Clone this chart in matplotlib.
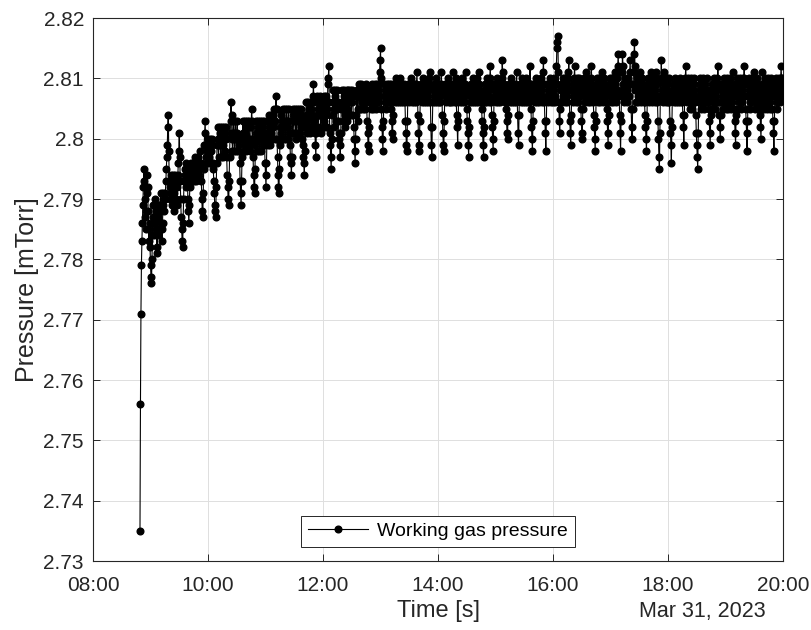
import numpy as np
import pandas as pd
import matplotlib
matplotlib.use("Agg")
import matplotlib.pyplot as plt
import matplotlib.dates as mdates
from matplotlib.ticker import FixedLocator, FuncFormatter

# working gas pressure log, 31 Mar 2023, one reading every 30 s, values in uTorr
start_time = "2023-03-31 08:49:00"
sample_step = "30s"
pressure_utorr = [
    2735, 2756, 2771, 2779, 2783, 2786, 2789, 2792, 2795, 2793, 2790, 2787, 2785, 2788, 2791, 2794, 2792, 2788, 2785, 2783,
    2786, 2782, 2779, 2777, 2776, 2780, 2784, 2787, 2789, 2786, 2784, 2787, 2790, 2788, 2785, 2782, 2781, 2784, 2787, 2789,
    2788, 2786, 2789, 2791, 2788, 2785, 2783, 2786, 2789, 2791, 2790, 2788, 2790, 2791, 2793, 2795, 2797, 2799, 2802, 2804,
    2798, 2793, 2790, 2792, 2794, 2791, 2789, 2792, 2794, 2793, 2790, 2788, 2791, 2793, 2794, 2792, 2790, 2789, 2792, 2794,
    2796, 2798, 2801, 2797, 2793, 2790, 2787, 2785, 2783, 2782, 2786, 2790, 2793, 2795, 2794, 2792, 2794, 2796, 2795, 2793,
    2790, 2788, 2786, 2789, 2792, 2794, 2796, 2795, 2793, 2795, 2796, 2794, 2793, 2795, 2797, 2795, 2793, 2794, 2796, 2795,
    2794, 2796, 2797, 2795, 2794, 2796, 2798, 2796, 2793, 2790, 2788, 2787, 2791, 2795, 2799, 2801, 2803, 2799, 2797, 2798,
    2796, 2799, 2800, 2797, 2796, 2799, 2800, 2798, 2796, 2798, 2800, 2799, 2796, 2795, 2793, 2791, 2789, 2788, 2787, 2792,
    2796, 2799, 2802, 2800, 2797, 2799, 2801, 2802, 2799, 2797, 2800, 2802, 2800, 2797, 2799, 2802, 2801, 2798, 2800, 2802,
    2800, 2797, 2794, 2792, 2790, 2789, 2793, 2797, 2801, 2803, 2806, 2804, 2800, 2798, 2801, 2803, 2800, 2798, 2801, 2803,
    2800, 2798, 2801, 2803, 2800, 2798, 2800, 2799, 2796, 2793, 2791, 2789, 2793, 2797, 2800, 2803, 2801, 2798, 2801, 2803,
    2801, 2798, 2800, 2803, 2802, 2799, 2800, 2803, 2802, 2799, 2798, 2800, 2802, 2805, 2803, 2800, 2797, 2794, 2792, 2791,
    2795, 2799, 2801, 2803, 2800, 2798, 2802, 2803, 2800, 2798, 2800, 2803, 2801, 2798, 2800, 2803, 2802, 2799, 2801, 2803,
    2799, 2796, 2794, 2792, 2796, 2800, 2803, 2801, 2799, 2801, 2804, 2802, 2799, 2801, 2804, 2802, 2800, 2802, 2804, 2805,
    2803, 2800, 2803, 2805, 2807, 2805, 2800, 2797, 2794, 2792, 2791, 2795, 2799, 2802, 2804, 2801, 2800, 2803, 2805, 2802,
    2800, 2803, 2805, 2802, 2800, 2803, 2805, 2803, 2800, 2802, 2805, 2803, 2801, 2799, 2797, 2796, 2794, 2797, 2801, 2804,
    2805, 2801, 2803, 2805, 2804, 2801, 2800, 2803, 2805, 2804, 2801, 2803, 2805, 2804, 2801, 2802, 2804, 2805, 2803, 2800,
    2799, 2797, 2796, 2794, 2798, 2802, 2804, 2806, 2803, 2801, 2804, 2806, 2805, 2802, 2801, 2804, 2806, 2805, 2802, 2804,
    2806, 2807, 2809, 2806, 2803, 2801, 2799, 2797, 2801, 2804, 2807, 2805, 2802, 2804, 2806, 2807, 2804, 2801, 2804, 2806,
    2805, 2802, 2805, 2807, 2806, 2803, 2802, 2805, 2807, 2804, 2802, 2805, 2809, 2810, 2812, 2806, 2801, 2799, 2797, 2795,
    2800, 2804, 2806, 2808, 2805, 2802, 2805, 2807, 2808, 2805, 2803, 2805, 2808, 2806, 2803, 2801, 2800, 2799, 2797, 2801,
    2805, 2808, 2806, 2803, 2806, 2808, 2807, 2804, 2802, 2805, 2807, 2808, 2805, 2803, 2806, 2808, 2807, 2804, 2806, 2808,
    2807, 2804, 2806, 2808, 2807, 2804, 2802, 2800, 2798, 2796, 2800, 2804, 2807, 2808, 2805, 2803, 2807, 2809, 2808, 2805,
    2805, 2807, 2809, 2808, 2806, 2805, 2807, 2808, 2806, 2805, 2807, 2809, 2808, 2806, 2803, 2801, 2799, 2798, 2802, 2806,
    2808, 2807, 2805, 2806, 2808, 2809, 2807, 2805, 2806, 2808, 2809, 2807, 2806, 2805, 2807, 2809, 2808, 2806, 2807, 2809,
    2811, 2813, 2815, 2810, 2805, 2802, 2800, 2798, 2803, 2807, 2809, 2808, 2806, 2805, 2807, 2809, 2808, 2806, 2807, 2809,
    2808, 2806, 2807, 2809, 2805, 2803, 2801, 2800, 2804, 2808, 2809, 2807, 2806, 2808, 2810, 2808, 2806, 2807, 2809, 2808,
    2806, 2807, 2809, 2810, 2808, 2806, 2807, 2809, 2808, 2806, 2807, 2809, 2808, 2806, 2803, 2801, 2799, 2798, 2803, 2807,
    2809, 2808, 2806, 2807, 2809, 2810, 2808, 2806, 2807, 2809, 2808, 2806, 2807, 2809, 2808, 2806, 2807, 2809, 2811, 2808,
    2804, 2801, 2799, 2798, 2803, 2807, 2809, 2808, 2806, 2807, 2809, 2810, 2808, 2806, 2807, 2809, 2808, 2806, 2808, 2809,
    2807, 2806, 2808, 2810, 2809, 2811, 2806, 2802, 2799, 2797, 2802, 2806, 2808, 2809, 2807, 2806, 2808, 2810, 2808, 2806,
    2807, 2809, 2808, 2806, 2807, 2809, 2808, 2806, 2809, 2811, 2808, 2804, 2801, 2799, 2798, 2803, 2807, 2809, 2808, 2806,
    2807, 2809, 2810, 2808, 2806, 2807, 2809, 2808, 2806, 2807, 2809, 2808, 2806, 2808, 2811, 2809, 2807, 2806, 2808, 2810,
    2806, 2804, 2802, 2799, 2803, 2807, 2809, 2808, 2806, 2807, 2809, 2810, 2808, 2806, 2807, 2809, 2808, 2806, 2807, 2809,
    2811, 2808, 2805, 2803, 2801, 2799, 2797, 2802, 2806, 2808, 2809, 2807, 2806, 2808, 2810, 2809, 2807, 2806, 2808, 2809,
    2807, 2806, 2808, 2810, 2808, 2806, 2807, 2811, 2809, 2807, 2808, 2806, 2807, 2805, 2803, 2801, 2799, 2797, 2802, 2806,
    2808, 2809, 2807, 2806, 2808, 2810, 2809, 2807, 2806, 2808, 2810, 2812, 2809, 2806, 2804, 2802, 2800, 2798, 2803, 2807,
    2809, 2808, 2806, 2807, 2809, 2810, 2808, 2806, 2807, 2809, 2808, 2806, 2807, 2809, 2808, 2810, 2813, 2811, 2808, 2807,
    2809, 2808, 2806, 2807, 2805, 2803, 2801, 2800, 2804, 2808, 2809, 2807, 2806, 2808, 2810, 2808, 2806, 2807, 2809, 2808,
    2806, 2807, 2809, 2808, 2806, 2807, 2811, 2808, 2804, 2801, 2799, 2804, 2808, 2809, 2807, 2806, 2808, 2810, 2809, 2807,
    2806, 2808, 2809, 2807, 2806, 2808, 2810, 2808, 2806, 2807, 2809, 2808, 2806, 2809, 2812, 2809, 2805, 2802, 2800, 2798,
    2803, 2807, 2809, 2808, 2806, 2807, 2809, 2810, 2808, 2806, 2807, 2809, 2808, 2806, 2807, 2809, 2810, 2808, 2806, 2807,
    2809, 2811, 2813, 2809, 2806, 2803, 2801, 2798, 2803, 2807, 2809, 2808, 2806, 2807, 2809, 2810, 2808, 2806, 2807, 2809,
    2808, 2806, 2807, 2809, 2810, 2808, 2806, 2807, 2809, 2812, 2815, 2816, 2817, 2811, 2806, 2803, 2801, 2805, 2808, 2809,
    2808, 2806, 2808, 2810, 2809, 2807, 2806, 2808, 2810, 2809, 2807, 2806, 2808, 2810, 2811, 2813, 2808, 2803, 2801, 2799,
    2804, 2808, 2809, 2807, 2806, 2808, 2810, 2812, 2809, 2807, 2806, 2808, 2810, 2809, 2807, 2806, 2808, 2810, 2809, 2807,
    2805, 2803, 2801, 2800, 2805, 2809, 2810, 2808, 2806, 2807, 2809, 2811, 2809, 2807, 2806, 2808, 2810, 2809, 2807, 2806,
    2808, 2810, 2812, 2809, 2807, 2808, 2806, 2804, 2802, 2800, 2798, 2803, 2807, 2809, 2810, 2808, 2806, 2807, 2809, 2810,
    2808, 2806, 2807, 2809, 2811, 2809, 2807, 2806, 2808, 2810, 2809, 2807, 2806, 2808, 2805, 2803, 2801, 2799, 2804, 2808,
    2810, 2809, 2807, 2806, 2808, 2810, 2809, 2807, 2806, 2808, 2810, 2811, 2809, 2807, 2806, 2808, 2810, 2812, 2814, 2811,
    2807, 2804, 2801, 2798, 2803, 2808, 2811, 2814, 2812, 2809, 2807, 2806, 2808, 2810, 2809, 2807, 2806, 2808, 2810, 2809,
    2807, 2809, 2811, 2813, 2809, 2805, 2802, 2800, 2805, 2809, 2811, 2814, 2816, 2812, 2808, 2806, 2808, 2810, 2809, 2807,
    2806, 2808, 2810, 2811, 2809, 2807, 2806, 2808, 2810, 2809, 2807, 2806, 2808, 2806, 2804, 2802, 2800, 2798, 2803, 2808,
    2810, 2809, 2807, 2806, 2808, 2810, 2811, 2809, 2807, 2806, 2808, 2810, 2809, 2807, 2806, 2808, 2810, 2811, 2809, 2807,
    2806, 2803, 2800, 2797, 2795, 2801, 2807, 2810, 2813, 2810, 2808, 2806, 2807, 2809, 2811, 2809, 2807, 2806, 2808, 2810,
    2809, 2807, 2806, 2808, 2810, 2806, 2803, 2801, 2799, 2796, 2802, 2807, 2809, 2808, 2806, 2807, 2809, 2810, 2808, 2806,
    2807, 2809, 2808, 2806, 2807, 2809, 2810, 2808, 2806, 2807, 2809, 2808, 2806, 2804, 2802, 2799, 2804, 2808, 2810, 2812,
    2809, 2807, 2806, 2808, 2810, 2809, 2807, 2805, 2806, 2808, 2810, 2809, 2807, 2805, 2806, 2808, 2810, 2809, 2807, 2806,
    2804, 2801, 2799, 2797, 2795, 2801, 2806, 2808, 2810, 2809, 2807, 2805, 2806, 2808, 2810, 2809, 2807, 2805, 2806, 2808,
    2809, 2807, 2806, 2810, 2808, 2806, 2807, 2805, 2803, 2801, 2799, 2804, 2808, 2809, 2807, 2805, 2806, 2808, 2810, 2809,
    2807, 2805, 2806, 2808, 2810, 2809, 2812, 2809, 2806, 2804, 2802, 2800, 2804, 2808, 2809, 2807, 2805, 2806, 2808, 2810,
    2809, 2807, 2805, 2806, 2808, 2810, 2809, 2807, 2805, 2806, 2808, 2810, 2809, 2807, 2805, 2806, 2808, 2811, 2809, 2807,
    2805, 2803, 2801, 2799, 2804, 2808, 2810, 2809, 2807, 2805, 2806, 2808, 2810, 2809, 2807, 2805, 2806, 2808, 2810, 2809,
    2810, 2812, 2809, 2807, 2805, 2803, 2801, 2798, 2803, 2807, 2809, 2810, 2808, 2806, 2805, 2807, 2809, 2810, 2808, 2806,
    2808, 2811, 2809, 2807, 2805, 2806, 2808, 2810, 2809, 2807, 2805, 2806, 2808, 2806, 2804, 2802, 2800, 2805, 2809, 2811,
    2809, 2807, 2805, 2806, 2808, 2810, 2809, 2807, 2805, 2806, 2808, 2810, 2809, 2807, 2805, 2806, 2808, 2810, 2809, 2807,
    2805, 2803, 2801, 2798, 2803, 2807, 2809, 2810, 2808, 2806, 2805, 2807, 2809, 2810, 2808, 2806, 2808, 2810, 2812, 2810,
    2808, 2807, 2809,
]

y_ticks = [2.73, 2.74, 2.75, 2.76, 2.77, 2.78, 2.79, 2.80, 2.81, 2.82]
x_range = ("2023-03-31 08:00", "2023-03-31 20:00")
date_label = "Mar 31, 2023"

t = pd.date_range(start_time, periods=len(pressure_utorr), freq=sample_step)
p = np.array(pressure_utorr) / 1000.0   # uTorr -> mTorr

plt.rcParams["font.family"] = ["Liberation Sans", "DejaVu Sans"]
ink = "#262626"

fig = plt.figure(figsize=(8.11, 6.30), dpi=100)
ax = fig.add_axes([0.1147, 0.1095, 0.8508, 0.8619])

ax.plot(t, p, color="black", lw=0.8, marker="o", ms=4.8,
        label="Working gas pressure", zorder=3)

ax.set_xlim(pd.Timestamp(x_range[0]), pd.Timestamp(x_range[1]))
ax.set_ylim(y_ticks[0], y_ticks[-1])
ax.xaxis.set_major_locator(mdates.HourLocator(interval=2))
ax.xaxis.set_major_formatter(mdates.DateFormatter("%H:%M"))
ax.yaxis.set_major_locator(FixedLocator(y_ticks))
ax.yaxis.set_major_formatter(FuncFormatter(lambda v, _: f"{v:.2f}".rstrip("0")))

ax.grid(True, color="#dedede", lw=0.7, zorder=0)
ax.set_axisbelow(True)
ax.tick_params(direction="in", length=5, width=0.7, colors=ink,
               labelsize=15, top=True, right=True)
ax.tick_params(axis="x", pad=10.5)
ax.tick_params(axis="y", pad=6.5)
for s in ax.spines.values():
    s.set_color(ink)
    s.set_linewidth(0.8)

# x label and the date share one baseline under the tick labels
ax.set_xlabel("Time [s]", fontsize=17, color=ink, va="baseline")
ax.xaxis.set_label_coords(0.5, -0.103)
ax.text(0.975, -0.103, date_label, transform=ax.transAxes, fontsize=15.5,
        color=ink, ha="right", va="baseline")
ax.set_ylabel("Pressure [mTorr]", fontsize=18, color=ink, labelpad=3)

leg = ax.legend(loc="lower center", bbox_to_anchor=(0.5, 0.026), borderaxespad=0,
                fontsize=14, fancybox=False, framealpha=1, edgecolor=ink,
                handlelength=3.1, borderpad=0.35, handletextpad=0.45)
leg.get_frame().set_linewidth(0.7)
for line in leg.get_lines():
    line.set_markersize(4.8)

fig.savefig("out.png", dpi=100)
